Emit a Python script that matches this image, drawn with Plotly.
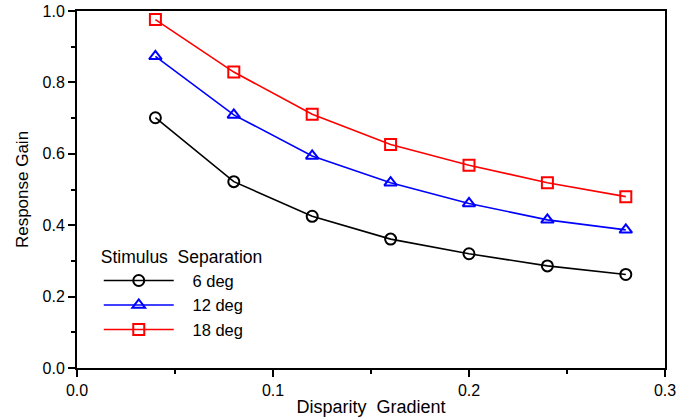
import plotly.graph_objects as go

x = [0.04, 0.08, 0.12, 0.16, 0.20, 0.24, 0.28]
deg6 = [0.701, 0.522, 0.425, 0.361, 0.320, 0.286, 0.262]
deg12 = [0.873, 0.709, 0.594, 0.519, 0.461, 0.415, 0.387]
deg18 = [0.976, 0.829, 0.711, 0.626, 0.568, 0.519, 0.480]
names = ["6 deg", "12 deg", "18 deg"]
colors = ["black", "blue", "red"]
symbols = ["circle-open", "triangle-up-open", "square-open"]
xticks = [0.0, 0.1, 0.2, 0.3]
yticks = [0.0, 0.2, 0.4, 0.6, 0.8, 1.0]

fig = go.Figure()
for ys, n, c, s in zip([deg6, deg12, deg18], names, colors, symbols):
    fig.add_trace(go.Scatter(
        x=x, y=ys, name="\u00a0\u00a0\u00a0" + n, mode="lines+markers",
        line=dict(color=c, width=1.6),
        marker=dict(symbol=s, size=11, color=c, line=dict(width=2, color=c)),
    ))

font = dict(family="Liberation Sans, Arial, sans-serif", size=17, color="black")
fig.update_layout(
    width=678, height=420,
    margin=dict(l=77, r=13, t=11, b=52),
    plot_bgcolor="white", paper_bgcolor="white",
    font=font,
    showlegend=True,
    legend=dict(
        title=dict(text="Stimulus  Separation", font=dict(size=17.5), side="top"),
        x=0.037, y=0.357, xanchor="left", yanchor="top",
        bgcolor="rgba(0,0,0,0)", itemwidth=70, tracegroupgap=0,
        font=dict(size=16.5),
    ),
    xaxis=dict(
        range=[0, 0.3], tickvals=xticks, ticktext=[f"{v:.1f}" for v in xticks],
        showline=True, linecolor="black", linewidth=2, mirror=True,
        ticks="outside", ticklen=7, tickwidth=1.5, tickcolor="black",
        minor=dict(dtick=0.05, ticks="outside", ticklen=4, tickwidth=1.5, tickcolor="black"),
        showgrid=False, zeroline=False, automargin=False,
        tickfont=dict(size=16),
        title=dict(text="Disparity  Gradient", standoff=2, font=dict(size=18)),
    ),
    yaxis=dict(
        range=[0, 1.0], tickvals=yticks, ticktext=[f"{v:.1f}" for v in yticks],
        showline=True, linecolor="black", linewidth=2, mirror=True,
        ticks="outside", ticklen=7, tickwidth=1.5, tickcolor="black",
        minor=dict(dtick=0.1, ticks="outside", ticklen=4, tickwidth=1.5, tickcolor="black"),
        showgrid=False, zeroline=False, automargin=False,
        tickfont=dict(size=16),
        title=dict(text="Response Gain", standoff=10, font=dict(size=17)),
    ),
)
fig.write_html("out.html", config={"displayModeBar": False},
               post_script="document.body.style.margin='0';document.body.style.overflow='hidden';")
